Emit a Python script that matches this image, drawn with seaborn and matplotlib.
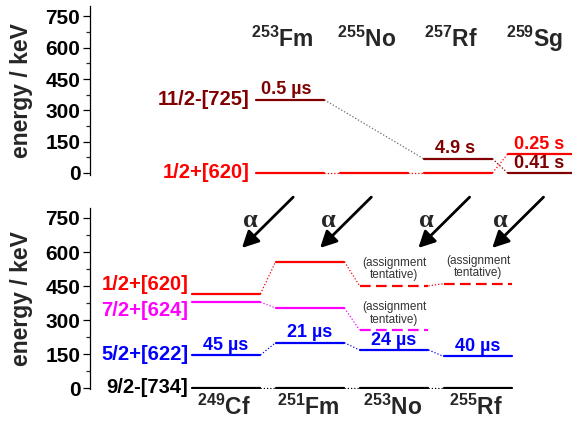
import numpy as np
import pandas as pd
import seaborn as sns
import matplotlib.pyplot as plt
from matplotlib.ticker import MultipleLocator

sns.set_style('ticks')
plt.rcParams['font.family'] = ['Liberation Sans', 'DejaVu Sans']
plt.rcParams['font.weight'] = 'bold'
plt.rcParams['mathtext.fontset'] = 'custom'
plt.rcParams['mathtext.rm'] = 'Liberation Sans:bold'
plt.rcParams['mathtext.it'] = 'Liberation Sans:bold'
plt.rcParams['mathtext.bf'] = 'Liberation Sans:bold'

# upper panel: N=151 isotones
top_mass = ['253', '255', '257', '259']
top_elem = ['Fm', 'No', 'Rf', 'Sg']
top_orbitals = ['1/2+[620]', '11/2-[725]']
top_colors = ['red', '#800000']
top_cols = [[0, 1, 2, 3], [0, 2, 3]]
top_energy = [[0, 0, 0, 90], [350, 68, 0]]
top_halflife = [['', '', '', '0.25 s'], ['0.5 µs', '4.9 s', '0.41 s']]
top_tentative = [[False] * 4, [False] * 3]
top_links = [['red', 'red', 'red'], ['dimgray', '#800000']]

# lower panel: N=151 isotones, alpha-decay daughters
bot_mass = ['249', '251', '253', '255']
bot_elem = ['Cf', 'Fm', 'No', 'Rf']
bot_orbitals = ['9/2-[734]', '5/2+[622]', '7/2+[624]', '1/2+[620]']
bot_colors = ['black', 'blue', 'magenta', 'red']
bot_cols = [[0, 1, 2, 3], [0, 1, 2, 3], [0, 1, 2], [0, 1, 2, 3]]
bot_energy = [[0, 0, 0, 0], [146, 200, 168, 140], [379, 353, 256], [415, 557, 451, 460]]
bot_halflife = [['', '', '', ''], ['45 µs', '21 µs', '24 µs', '40 µs'], ['', '', ''], ['', '', '', '']]
bot_tentative = [[False] * 4, [False] * 4, [False, False, True], [False, False, True, True]]
bot_links = [[c] * 3 for c in bot_colors]
# y position of the orbital labels on the left
bot_label_E = [4, 150, 340, 455]

W = 0.41  # half width of a level


def frames(cols, energy, colors, tentative, links):
    lev, lnk = [], []
    for k in range(len(cols)):
        for j, (c, e) in enumerate(zip(cols[k], energy[k])):
            seg = f'{k}-{j}'
            dash = (4.8, 2.4) if tentative[k][j] else ''
            lev += [(seg, c - W, e, colors[k], dash), (seg, c + W, e, colors[k], dash)]
            if j > 0:
                seg = f'L{k}-{j}'
                lnk += [(seg, cols[k][j - 1] + W, energy[k][j - 1], links[k][j - 1]),
                        (seg, c - W, e, links[k][j - 1])]
    lev = pd.DataFrame(lev, columns=['seg', 'x', 'E', 'color', 'dash'])
    lnk = pd.DataFrame(lnk, columns=['seg', 'x', 'E', 'color'])
    return lev, lnk


def draw(ax, lev, lnk):
    sns.lineplot(data=lnk, x='x', y='E', units='seg', estimator=None, hue='seg',
                 palette=dict(zip(lnk.seg, lnk.color)), sort=False, legend=False,
                 lw=0.9, dashes=(1, 1.6), ax=ax)
    sns.lineplot(data=lev, x='x', y='E', units='seg', estimator=None, hue='seg',
                 palette=dict(zip(lev.seg, lev.color)), style='seg',
                 dashes=dict(zip(lev.seg, lev.dash)), sort=False, legend=False,
                 lw=1.6, ax=ax)


def style_axis(ax):
    ax.yaxis.set_major_locator(MultipleLocator(150))
    ax.yaxis.set_minor_locator(MultipleLocator(75))
    ax.tick_params(axis='y', which='major', length=5, width=0.9, labelsize=15, pad=2, colors='black')
    ax.tick_params(axis='y', which='minor', length=3, width=0.9)
    ax.set_xticks([])
    ax.set_xlabel('')
    ax.set_ylabel('energy / keV', fontsize=16.5, fontweight='bold')
    ax.yaxis.set_label_coords(-0.118, 0.5)
    sns.despine(ax=ax, bottom=True)
    ax.spines['left'].set_linewidth(0.9)
    ax.spines['left'].set_color('black')
    ax.set_facecolor('none')
    for t in ax.get_yticklabels():
        t.set_fontweight('bold')


fig = plt.figure(figsize=(5.72, 4.21), dpi=100)
ax_top = fig.add_axes([90 / 572, 1 - 175 / 421, 482 / 572, 169 / 421])
ax_bot = fig.add_axes([90 / 572, 1 - 389 / 421, 482 / 572, 181 / 421])

# ---- upper panel
lev, lnk = frames(top_cols, top_energy, top_colors, top_tentative, top_links)
draw(ax_top, lev, lnk)
ax_top.set_xlim(-2.381, 3.357)
ax_top.set_ylim(-10, 800)
style_axis(ax_top)

for i, (m, el) in enumerate(zip(top_mass, top_elem)):
    ax_top.text(i - 0.09, 603, f'$^{{{m}}}${el}', ha='center', va='baseline',
                fontsize=16.5, fontweight='bold')
for k, name in enumerate(top_orbitals):
    ax_top.text(-0.48, top_energy[k][0], name, ha='right', va='center',
                color=top_colors[k], fontsize=14.5, fontweight='bold')
    for c, e, hl in zip(top_cols[k], top_energy[k], top_halflife[k]):
        if hl:
            ax_top.annotate(hl, (c - 0.04, e), xytext=(0, 1), textcoords='offset points',
                            ha='center', va='bottom', color=top_colors[k],
                            fontsize=13, fontweight='bold')

# ---- lower panel
lev, lnk = frames(bot_cols, bot_energy, bot_colors, bot_tentative, bot_links)
draw(ax_bot, lev, lnk)
ax_bot.set_xlim(-1.619, 4.119)
ax_bot.set_ylim(-4, 794)
style_axis(ax_bot)

for i, (m, el) in enumerate(zip(bot_mass, bot_elem)):
    ax_bot.text(i - 0.02, -116, f'$^{{{m}}}${el}', ha='center', va='baseline',
                fontsize=16.5, fontweight='bold', clip_on=False)
for k, name in enumerate(bot_orbitals):
    ax_bot.text(-0.45, bot_label_E[k], name, ha='right', va='center',
                color=bot_colors[k], fontsize=14.5, fontweight='bold')
    for c, e, hl, tent in zip(bot_cols[k], bot_energy[k], bot_halflife[k], bot_tentative[k]):
        if hl:
            ax_bot.annotate(hl, (c, e), xytext=(0, 1), textcoords='offset points',
                            ha='center', va='bottom', color=bot_colors[k],
                            fontsize=13, fontweight='bold')
        if tent:
            ax_bot.annotate('(assignment\ntentative)', (c, e), xytext=(0, 12),
                            textcoords='offset points', ha='center', va='center',
                            color='#333333', fontsize=8.5, fontweight='normal',
                            linespacing=1.05)

# alpha-decay arrows between the panels
alpha_tip_x = [0.19, 1.12, 2.29, 3.17]
for x in alpha_tip_x:
    ax_bot.annotate('', xy=(x, 618), xytext=(x + 0.61, 842), annotation_clip=False,
                    arrowprops=dict(arrowstyle='-|>,head_length=0.55,head_width=0.28',
                                    mutation_scale=18, lw=2, color='black',
                                    shrinkA=0, shrinkB=0))
    ax_bot.text(x + 0.1, 741, 'α', ha='center', va='center', fontsize=19,
                family=['Liberation Serif', 'DejaVu Serif'], fontweight='bold',
                clip_on=False)

fig.savefig('out.png', dpi=100)
